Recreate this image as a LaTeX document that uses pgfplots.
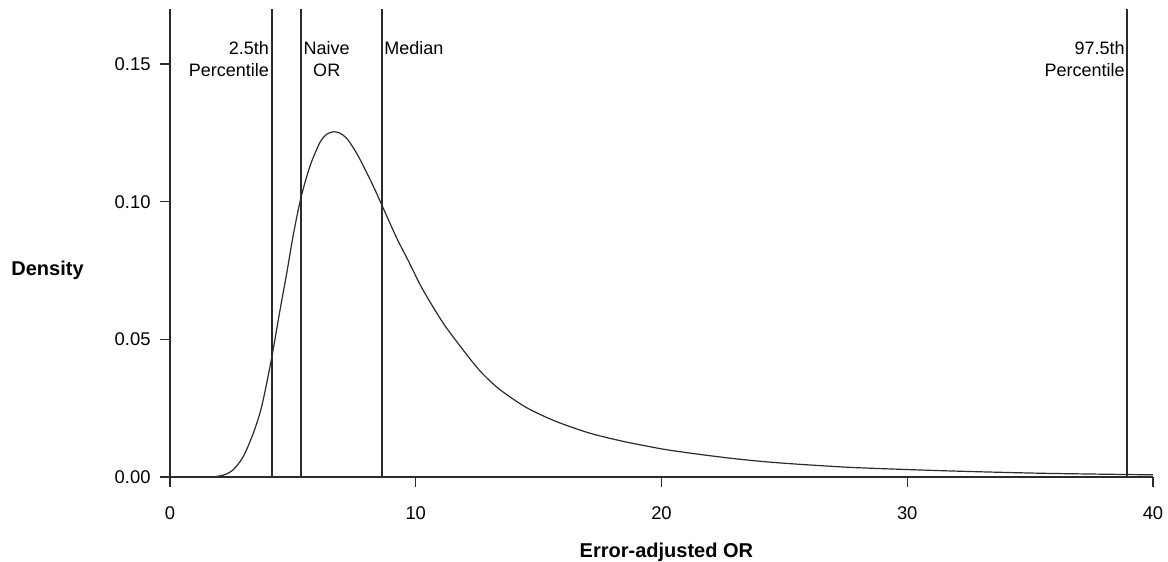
\documentclass[border=0pt]{standalone}
\usepackage{fontspec}
\setmainfont{Liberation Sans}
\usepackage{pgfplots}
\pgfplotsset{compat=1.18}
\definecolor{ink}{HTML}{2B2B2B}

\begin{document}
\begin{tikzpicture}
% fixed frame: 1 px of the reference = 0.5pt, axis corner at (0,0)
\path[use as bounding box] (-85pt,-42.5pt) rectangle (499pt,238.5pt);
\begin{axis}[
  scale only axis,
  width=491.5pt, height=234pt,
  xmin=0, xmax=40, ymin=0, ymax=0.17,
  axis x line*=bottom, axis y line*=left,
  axis line style={ink, line width=0.7pt},
  tick style={ink, line width=0.7pt},
  tick align=outside,
  major tick length=5pt,
  xtick={0,10,20,30,40},
  ytick={0,0.05,0.10,0.15},
  /pgf/number format/assume math mode=true,
  yticklabel style={/pgf/number format/fixed, /pgf/number format/fixed zerofill,
    /pgf/number format/precision=2, font=\fontsize{9.2}{11}\selectfont, xshift=-1.2pt},
  xticklabel style={font=\fontsize{9.2}{11}\selectfont, yshift=-6.5pt},
  scaled y ticks=false,
  xlabel={Error-adjusted OR},
  ylabel={Density},
  xlabel style={font=\fontsize{10}{12}\selectfont\bfseries,
    at={(axis description cs:0.505,-0.16)}, anchor=center},
  ylabel style={font=\fontsize{10}{12}\selectfont\bfseries, rotate=-90,
    at={(axis description cs:-0.1246,0.442)}, anchor=center},
  clip=false,
]
\addplot[ink, line width=0.6pt, smooth, tension=0.5] coordinates {
  (0,0) (1.6,0) (2.03,0.0004) (2.3,0.0011) (2.58,0.0027) (2.98,0.0074)
  (3.39,0.0159) (3.73,0.0256) (4.11,0.0420) (4.48,0.0608) (4.75,0.0740)
  (5.02,0.0881) (5.33,0.1015) (5.70,0.1130) (6.10,0.1215) (6.38,0.1245)
  (6.65,0.1254) (6.92,0.1249) (7.19,0.1230) (7.45,0.1197) (7.73,0.1154)
  (8.27,0.1057) (8.65,0.0982) (9.22,0.0869) (9.7,0.0785) (10.2,0.0695)
  (10.7,0.0618) (11.2,0.0548) (11.7,0.0488) (12.2,0.0430) (12.7,0.0377)
  (13.43,0.0317) (14.51,0.0252) (15.73,0.0201) (17.09,0.0159) (18.31,0.0132)
  (19.13,0.0117) (20.21,0.0099) (21.57,0.0082) (22.92,0.0067) (24.28,0.0055)
  (25.64,0.0046) (27.67,0.0035) (29.7,0.0028) (31.74,0.0022) (33.8,0.0017)
  (35.81,0.0013) (38.93,0.0009) (40,0.0008)
};
% reference lines
\addplot[ink, line width=0.9pt] coordinates {(4.14,0) (4.14,0.17)};
\addplot[ink, line width=0.9pt] coordinates {(5.32,0) (5.32,0.17)};
\addplot[ink, line width=0.9pt] coordinates {(8.63,0) (8.63,0.17)};
\addplot[ink, line width=0.9pt] coordinates {(38.93,0) (38.93,0.17)};

\node[anchor=north east, align=right, inner sep=0pt, xshift=-1.2pt,
  font=\fontsize{9}{11.3}\selectfont] at (axis cs:4.14,0.1585) {2.5th\\Percentile};
\node[anchor=north west, align=center, inner sep=0pt, xshift=1.3pt,
  font=\fontsize{9}{11.3}\selectfont] at (axis cs:5.32,0.1585) {Naive\\OR};
\node[anchor=north west, inner sep=0pt, xshift=0.9pt,
  font=\fontsize{9}{11.3}\selectfont] at (axis cs:8.63,0.1585) {Median};
\node[anchor=north east, align=right, inner sep=0pt, xshift=-0.8pt,
  font=\fontsize{9}{11.3}\selectfont] at (axis cs:38.93,0.1585) {97.5th\\Percentile};
\end{axis}
\end{tikzpicture}
\end{document}
